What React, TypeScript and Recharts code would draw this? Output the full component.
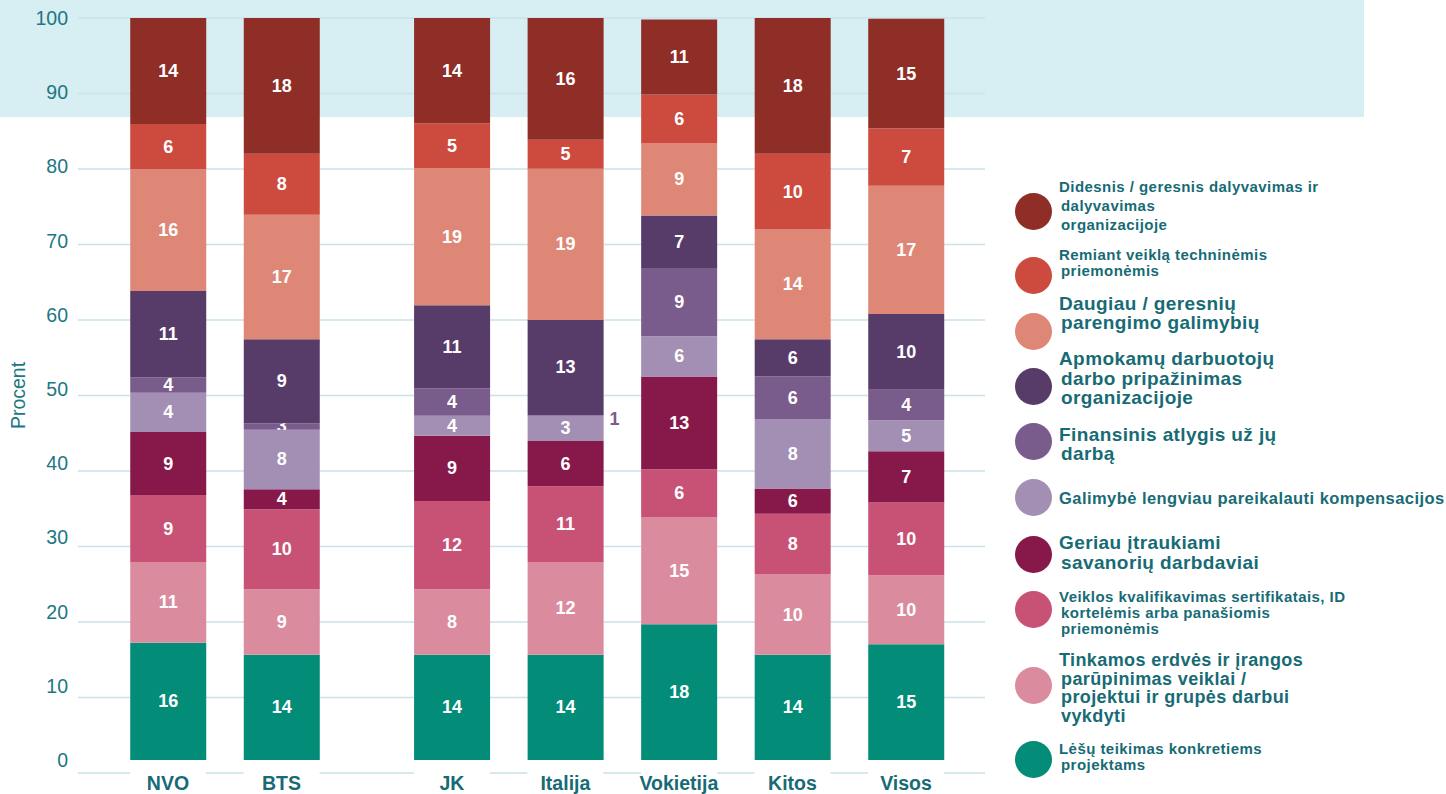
import { BarChart, Bar, XAxis, YAxis, CartesianGrid, LabelList } from 'recharts';

const categories = ['NVO', 'BTS', 'JK', 'Italija', 'Vokietija', 'Kitos', 'Visos'];

// segment heights as drawn in the picture (bottom to top of each column)
const lesuTeikimas = [15.8, 14.2, 14.2, 14.2, 18.3, 14.2, 15.6];
const tinkamosErdves = [10.9, 8.8, 8.8, 12.5, 14.4, 10.8, 9.3];
const veiklosKvalifikavimas = [9.0, 10.8, 11.9, 10.2, 6.5, 8.2, 9.8];
const geriauItraukiami = [8.5, 2.7, 8.8, 6.1, 12.5, 3.4, 6.9];
const galimybeKompensacijos = [5.3, 8.0, 2.7, 3.4, 5.4, 9.3, 4.2];
const finansinisAtlygis = [2.1, 0.9, 3.7, 0.1, 9.2, 5.8, 4.1];
const apmokamuDarbuotoju = [11.6, 11.3, 11.2, 12.8, 7.1, 5.0, 10.2];
const daugiauParengimo = [16.4, 16.8, 18.5, 20.4, 9.7, 14.8, 17.3];
const remiantVeikla = [6.1, 8.2, 6.0, 3.9, 6.6, 10.2, 7.7];
const didesnisDalyvavimas = [14.3, 18.3, 14.3, 16.4, 10.1, 18.3, 14.8];

// numbers printed on the segments
const lesuTeikimasLbl = [16, 14, 14, 14, 18, 14, 15];
const tinkamosErdvesLbl = [11, 9, 8, 12, 15, 10, 10];
const veiklosKvalifikavimasLbl = [9, 10, 12, 11, 6, 8, 10];
const geriauItraukiamiLbl = [9, 4, 9, 6, 13, 6, 7];
const galimybeKompensacijosLbl = [4, 8, 4, 3, 6, 8, 5];
const finansinisAtlygisLbl = [4, 3, 4, 1, 9, 6, 4];
const apmokamuDarbuotojuLbl = [11, 9, 11, 13, 7, 6, 10];
const daugiauParengimoLbl = [16, 17, 19, 19, 9, 14, 17];
const remiantVeiklaLbl = [6, 8, 5, 5, 6, 10, 7];
const didesnisDalyvavimasLbl = [14, 18, 14, 16, 11, 18, 15];

const yTicks = [0, 10, 20, 30, 40, 50, 60, 70, 80, 90, 100];
const gridTicks = [0, 10, 20, 30, 40, 50, 60, 70, 80, 90];

const FONT = '"Liberation Sans", Arial, sans-serif';
const TEAL_TEXT = '#176b75';
const AXIS_TEXT = '#217684';
const GRID = '#cbe2e8';
const BAR_SIZE = 76;
// NVO and BTS form one group, the countries and "Visos" another, half a slot apart
const GROUP_START = 2;
const GROUP_GAP = 0.5;

const series = [
  { key: 'lesu', color: '#038c78', values: lesuTeikimas, labels: lesuTeikimasLbl,
    lines: ['Lėšų teikimas konkretiems', 'projektams'], fs: 15, lh: 16, cy: 759, top: 741 },
  { key: 'tinkamos', color: '#da8c9e', values: tinkamosErdves, labels: tinkamosErdvesLbl,
    lines: ['Tinkamos erdvės ir įrangos', 'parūpinimas veiklai /', 'projektui ir grupės darbui', 'vykdyti'], fs: 18, lh: 18.7, cy: 685, top: 651 },
  { key: 'veiklos', color: '#c85275', values: veiklosKvalifikavimas, labels: veiklosKvalifikavimasLbl,
    lines: ['Veiklos kvalifikavimas sertifikatais, ID', 'kortelėmis arba panašiomis', 'priemonėmis'], fs: 15, lh: 16, cy: 609, top: 589 },
  { key: 'geriau', color: '#86194a', values: geriauItraukiami, labels: geriauItraukiamiLbl,
    lines: ['Geriau įtraukiami', 'savanorių darbdaviai'], fs: 19, lh: 20, cy: 554, top: 533 },
  { key: 'galimybe', color: '#a38fb4', values: galimybeKompensacijos, labels: galimybeKompensacijosLbl,
    lines: ['Galimybė lengviau pareikalauti kompensacijos'], fs: 16.5, lh: 18, cy: 497, top: 489 },
  { key: 'finansinis', color: '#7a5c8c', values: finansinisAtlygis, labels: finansinisAtlygisLbl,
    lines: ['Finansinis atlygis už jų', 'darbą'], fs: 19, lh: 19, cy: 441, top: 425 },
  { key: 'apmokamu', color: '#573c6a', values: apmokamuDarbuotoju, labels: apmokamuDarbuotojuLbl,
    lines: ['Apmokamų darbuotojų', 'darbo pripažinimas', 'organizacijoje'], fs: 19, lh: 19.5, cy: 386, top: 349 },
  { key: 'daugiau', color: '#de8776', values: daugiauParengimo, labels: daugiauParengimoLbl,
    lines: ['Daugiau / geresnių', 'parengimo galimybių'], fs: 19, lh: 19, cy: 331, top: 294 },
  { key: 'remiant', color: '#cd4a3e', values: remiantVeikla, labels: remiantVeiklaLbl,
    lines: ['Remiant veiklą techninėmis', 'priemonėmis'], fs: 15, lh: 16, cy: 275, top: 247 },
  { key: 'didesnis', color: '#8f2e26', values: didesnisDalyvavimas, labels: didesnisDalyvavimasLbl,
    lines: ['Didesnis / geresnis dalyvavimas ir', 'dalyvavimas', 'organizacijoje'], fs: 15, lh: 19, cy: 211, top: 177 },
];

const positions = categories.map((_, i) => i + (i >= GROUP_START ? GROUP_GAP : 0));

const data = categories.map((name, i) => {
  const row: Record<string, any> = { name, pos: positions[i] };
  series.forEach(s => {
    row[s.key] = s.values[i];
    row[s.key + 'Lbl'] = s.labels[i];
  });
  return row;
});

const nameAt = (p: number) => categories[positions.indexOf(p)] ?? '';

function makeSegmentLabel(seriesKey: string, color: string) {
  return (props: any) => {
    const { x, y, width, value, index } = props;
    const height = Math.abs(props.height);
    const top = props.height < 0 ? y + props.height : y;
    if (value == null) return null;
    if (height < 3) {
      // segment too thin: number goes beside the column
      return (
        <text x={x + width + 6} y={top + height / 2 + 4} fill={color} fontSize={18}
          fontWeight={700} fontFamily={FONT} dominantBaseline="central">{value}</text>
      );
    }
    const id = `clip-${seriesKey}-${index}`;
    return (
      <g>
        <defs>
          <clipPath id={id}><rect x={x} y={top} width={width} height={height} /></clipPath>
        </defs>
        <text x={x + width / 2} y={top + height / 2} clipPath={`url(#${id})`} fill="#fff"
          fontSize={18} fontWeight={700} fontFamily={FONT} textAnchor="middle"
          dominantBaseline="central">{value}</text>
      </g>
    );
  };
}

function XTick({ x, y, payload }: any) {
  return (
    <g>
      <rect x={x - BAR_SIZE / 2} y={y - 4} width={BAR_SIZE} height={8} fill="#fff" />
      <text x={x} y={y + 17} textAnchor="middle" fill={TEAL_TEXT} fontSize={19.5}
        fontWeight={700} fontFamily={FONT}>{nameAt(payload.value)}</text>
    </g>
  );
}

function YLabel(props: any) {
  const vb = props.viewBox || { x: 0, y: 18, width: 78, height: 755 };
  const cx = vb.x + 18;
  const cy = vb.y + vb.height / 2;
  return (
    <text x={cx} y={cy} transform={`rotate(-90, ${cx}, ${cy})`} textAnchor="middle"
      dominantBaseline="central" fill={AXIS_TEXT} fontSize={19.5} fontFamily={FONT}>Procent</text>
  );
}

function LegendBlock() {
  return (
    <>
      {series.map(s => (
        <div key={s.key}>
          <div style={{
            position: 'absolute', left: 1033 - 18.5, top: s.cy - 18.5, width: 37, height: 37,
            borderRadius: '50%', background: s.color,
          }} />
          <div style={{
            position: 'absolute', left: 1059, top: s.top, color: TEAL_TEXT, fontFamily: FONT,
            fontWeight: 700, fontSize: s.fs, lineHeight: `${s.lh}px`,
            letterSpacing: s.fs >= 18 ? 0.4 : 0.45, whiteSpace: 'nowrap',
          }}>
            {s.lines.map((l, i) => (
              <div key={i} style={{ paddingLeft: i > 0 ? 2 : 0 }}>{l}</div>
            ))}
          </div>
        </div>
      ))}
    </>
  );
}

export default function App() {
  return (
    <div style={{ position: 'absolute', left: 0, top: 0, width: 1446, height: 794, background: '#fff', overflow: 'hidden' }}>
      <div style={{ position: 'absolute', left: 0, top: 0, width: 1364, height: 117, background: '#d7eef2' }} />
      <div style={{ position: 'absolute', left: 0, top: 0 }}>
        <BarChart width={1446} height={794} data={data}
          margin={{ top: 18, right: 461, bottom: 0, left: 0 }}>
          <CartesianGrid yAxisId="grid" vertical={false} stroke={GRID} strokeWidth={1.5} />
          <XAxis dataKey="pos" type="number" domain={[-0.7927, 7.1958]} allowDataOverflow
            ticks={positions} interval={0} height={21} axisLine={false} tickLine={false}
            tickSize={0} tickMargin={0} tick={<XTick />} />
          <YAxis yAxisId="val" domain={[-1.75, 100]} allowDataOverflow ticks={yTicks} interval={0}
            width={78} axisLine={false} tickLine={false} tickSize={0} tickMargin={10}
            tick={{ fill: AXIS_TEXT, fontSize: 19.5, fontFamily: FONT }} label={<YLabel />} />
          <YAxis yAxisId="grid" orientation="right" width={0} hide domain={[0, 100]}
            allowDataOverflow ticks={gridTicks} interval={0} />
          {series.map(s => (
            <Bar key={s.key} yAxisId="val" dataKey={s.key} stackId="a" fill={s.color}
              barSize={BAR_SIZE} isAnimationActive={false}>
              <LabelList dataKey={s.key + 'Lbl'} content={makeSegmentLabel(s.key, s.color)} />
            </Bar>
          ))}
        </BarChart>
      </div>
      <LegendBlock />
    </div>
  );
}
